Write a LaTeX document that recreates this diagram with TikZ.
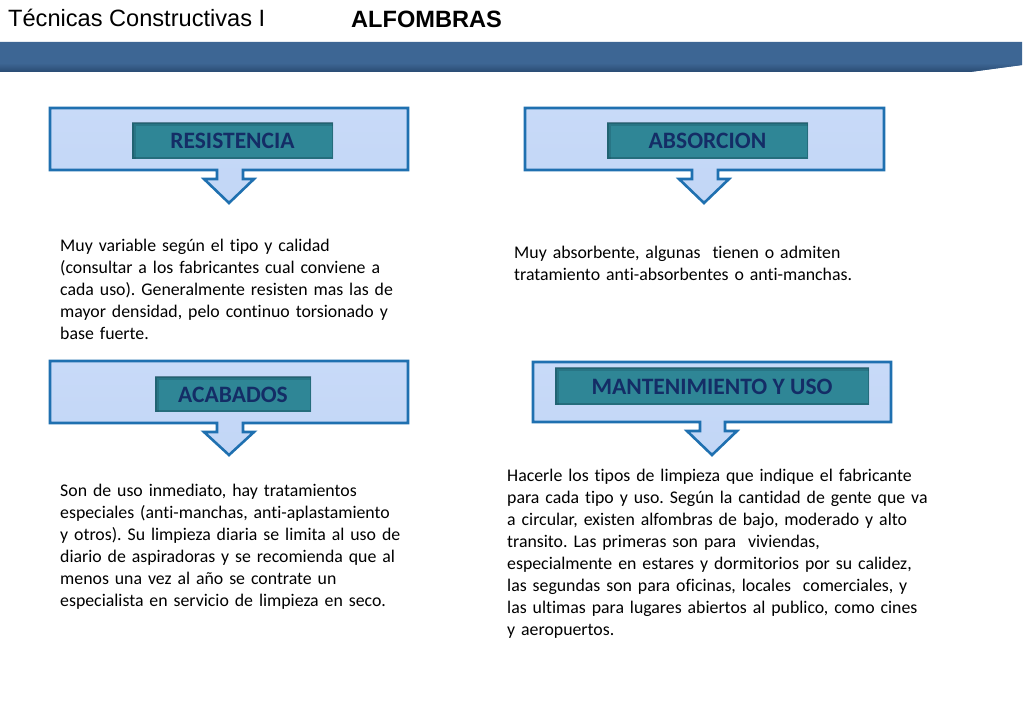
\documentclass[tikz,border=0pt]{standalone}
\usepackage{fontspec}
\setmainfont{Carlito}[Ligatures={NoCommon}]
\newfontfamily\arialfont{Liberation Sans}
\frenchspacing
\definecolor{bandblue}{HTML}{3D6694}
\definecolor{bandshade}{HTML}{2A4B72}
\definecolor{calloutline}{HTML}{1F70B0}
\definecolor{callouttop}{HTML}{C8DAF8}
\definecolor{calloutmid}{HTML}{D7E5FA}
\definecolor{calloutbot}{HTML}{C2D6F6}
\definecolor{labelteal}{HTML}{2F8696}
\definecolor{labeldark}{HTML}{1A4F5E}
\definecolor{labeltext}{HTML}{142D66}
\tikzset{
  callout/.style={draw=calloutline, line width=2.6pt, line join=miter,
    top color=callouttop, middle color=calloutmid, bottom color=calloutbot},
  labelbox/.style={fill=labelteal, inner sep=0pt, text=labeltext,
    font=\bfseries\fontsize{23.5}{26}\selectfont,
    path picture={
      \draw[labeldark, line width=3pt, opacity=0.45]
        (path picture bounding box.south west) rectangle (path picture bounding box.north east);
      \draw[labeldark, line width=7pt, opacity=0.3]
        (path picture bounding box.south west) -- (path picture bounding box.north west) -- (path picture bounding box.north east);}},
  bodytext/.style={anchor=north west, inner sep=0pt, align=left, text width=440pt,
    font=\fontsize{17.8}{22}\selectfont, text=black}
}
\begin{document}
\begin{tikzpicture}[x=1pt,y=-1pt]
\useasboundingbox (0,0) rectangle (1023,708);
\fill[white] (0,0) rectangle (1023,708);
% header
\node[anchor=base west, inner sep=0pt, font=\arialfont\fontsize{23.6}{26}\selectfont] (course) at (8,27) {Técnicas Constructivas I};
\node[anchor=base, inner sep=0pt, font=\arialfont\bfseries\fontsize{23.6}{26}\selectfont] (title) at (426.5,28) {ALFOMBRAS};
\fill[bandblue] (0,42) -- (1022,42) -- (1022,65) -- (970,72) -- (0,72) -- cycle;
\shade[top color=bandblue, bottom color=bandshade] (0,63) -- (1022,63) -- (1022,65) -- (970,72) -- (0,72) -- cycle;
% callouts
\path[callout] (50,108) -- (408,108) -- (408,170) -- (243,170) -- (243,179) -- (254,179) -- (229,203) -- (204,179) -- (217,179) -- (217,170) -- (50,170) -- cycle;
\path[callout] (525,108) -- (884,108) -- (884,170) -- (718,170) -- (718,179) -- (729,179) -- (704,203) -- (679,179) -- (692,179) -- (692,170) -- (525,170) -- cycle;
\path[callout] (50,361) -- (408,361) -- (408,423) -- (243,423) -- (243,432) -- (254,432) -- (229,455) -- (204,432) -- (217,432) -- (217,423) -- (50,423) -- cycle;
\path[callout] (533,362) -- (891,362) -- (891,422) -- (725,422) -- (725,431) -- (737,431) -- (712,455) -- (687,431) -- (700,431) -- (700,422) -- (533,422) -- cycle;
% labels
\node[labelbox, minimum width=201pt, minimum height=36pt] (res) at (232.5,141) {RESISTENCIA};
\node[labelbox, minimum width=201pt, minimum height=36pt] (abs) at (707.5,141) {ABSORCION};
\node[labelbox, minimum width=156pt, minimum height=35pt] (aca) at (233,394.5) {ACABADOS};
\node[labelbox, minimum width=314pt, minimum height=37pt] (man) at (712,386.5) {MANTENIMIENTO Y USO};
% texts
\node[bodytext] (t1) at (60,235.6) {\strut Muy variable según el tipo y calidad\\ (consultar a los fabricantes cual conviene a\\ cada uso). Generalmente resisten mas las de\\ mayor densidad, pelo continuo torsionado y\\ base fuerte.};
\node[bodytext] (t2) at (514,242.6) {\strut Muy absorbente, algunas\ \ tienen o admiten\\ tratamiento anti-absorbentes o anti-manchas.};
\node[bodytext] (t3) at (60,480.6) {\strut Son de uso inmediato, hay tratamientos\\ especiales (anti-manchas, anti-aplastamiento\\ y otros). Su limpieza diaria se limita al uso de\\ diario de aspiradoras y se recomienda que al\\ menos una vez al año se contrate un\\ especialista en servicio de limpieza en seco.};
\node[bodytext] (t4) at (507,465.6) {\strut Hacerle los tipos de limpieza que indique el fabricante\\ para cada tipo y uso. Según la cantidad de gente que va\\ a circular, existen alfombras de bajo, moderado y alto\\ transito. Las primeras son para\ \ viviendas,\\ especialmente en estares y dormitorios por su calidez,\\ las segundas son para oficinas, locales\ \ comerciales, y\\ las ultimas para lugares abiertos al publico, como cines\\ y aeropuertos.};
\end{tikzpicture}
\end{document}
